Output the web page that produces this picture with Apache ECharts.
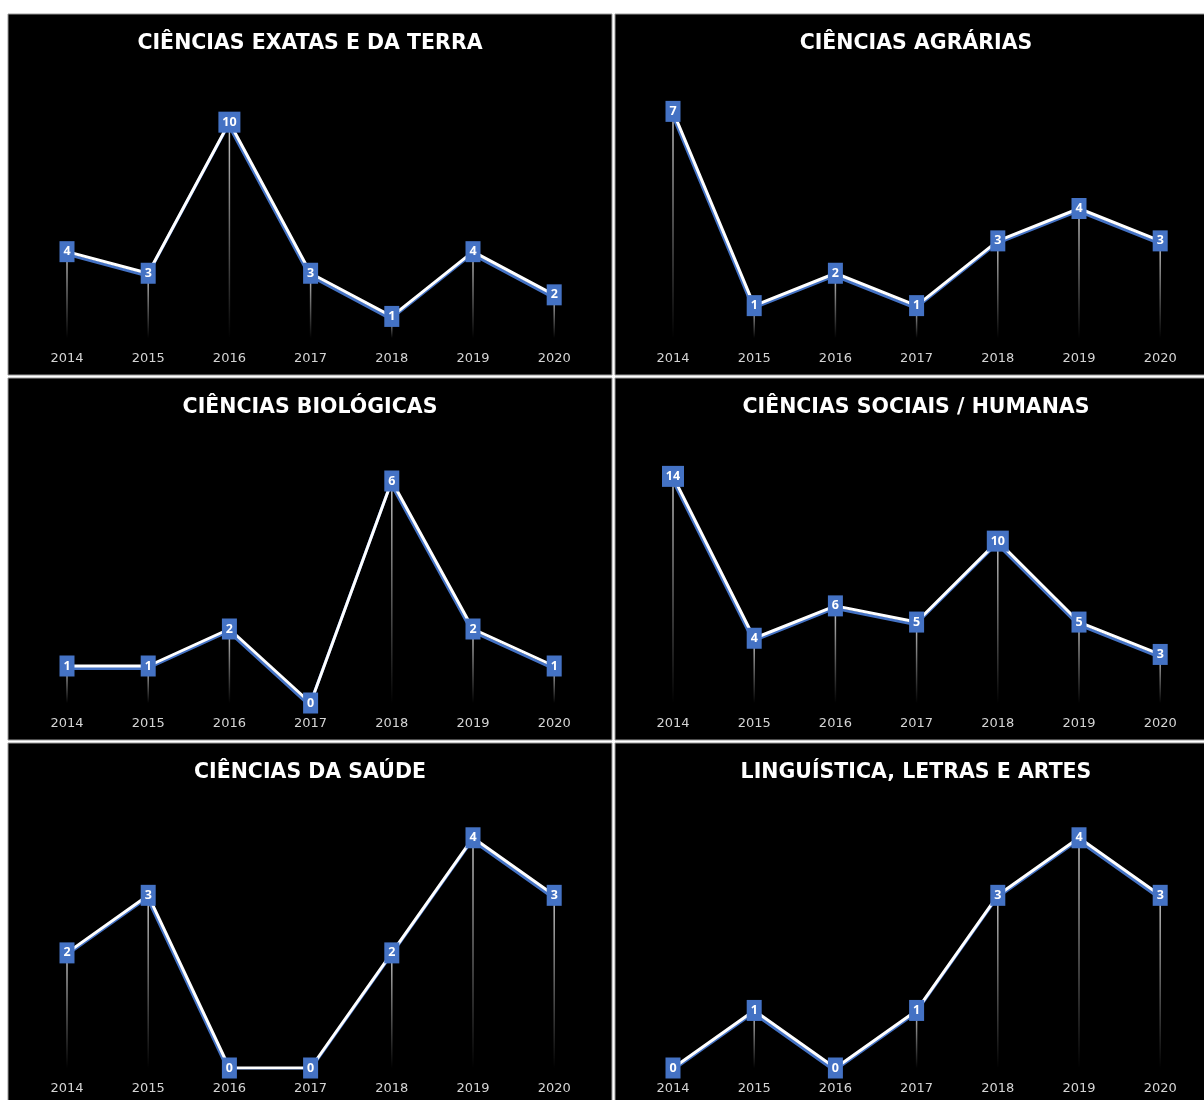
<!DOCTYPE html>
<html>
<head>
<meta charset="utf-8">
<script src="https://cdn.jsdelivr.net/npm/echarts@6/dist/echarts.min.js"></script>
<style>
html,body{margin:0;padding:0;background:#fff;overflow:hidden;}
#chart{width:1204px;height:1100px;}
</style>
</head>
<body>
<div id="chart"></div>
<script>
const years = ['2014','2015','2016','2017','2018','2019','2020'];
const titles = ['CIÊNCIAS EXATAS E DA TERRA','CIÊNCIAS AGRÁRIAS','CIÊNCIAS BIOLÓGICAS','CIÊNCIAS SOCIAIS / HUMANAS','CIÊNCIAS DA SAÚDE','LINGUÍSTICA, LETRAS E ARTES'];
const exatas = [4,3,10,3,1,4,2];
const agrarias = [7,1,2,1,3,4,3];
const biologicas = [1,1,2,0,6,2,1];
const sociais = [14,4,6,5,10,5,3];
const saude = [2,3,0,0,2,4,3];
const linguistica = [0,1,0,1,3,4,3];
const axisMax = [12,8,7,16,4.5,4.5];
const seriesData = [exatas,agrarias,biologicas,sociais,saude,linguistica];

const BLUE = '#4472C4';
const panelX = [8,615];
const panelW = [604,602];
const panelY = [14,378,743];
const panelH = [361,362,360];
const gridLeft = [26.4,632.4];
const gridW = 568.4;
const gridTop = [79,444,809];
const gridH = 259;

const graphic = [], title = [], grid = [], xAxis = [], yAxis = [], series = [];
for (let i = 0; i < 6; i++) {
  const c = i % 2, r = Math.floor(i / 2);
  graphic.push({type:'rect', z:-10, silent:true,
    shape:{x:panelX[c], y:panelY[r], width:panelW[c], height:panelH[r]},
    style:{fill:'#000', stroke:'#9a9a9a', lineWidth:1}});
  title.push({text:titles[i], left:panelX[c] + (c===0?302:301), top:panelY[r] + 19.5, textAlign:'center', padding:0,
    textStyle:{color:'#ffffff', fontSize:20.5, fontWeight:'bold', fontFamily:'DejaVu Sans'}});
  grid.push({left:gridLeft[c], top:gridTop[r], width:gridW, height:gridH});
  xAxis.push({type:'category', gridIndex:i, data:years, boundaryGap:true,
    axisLine:{show:false}, axisTick:{show:false}, splitLine:{show:false},
    axisLabel:{color:'#d4d4d4', fontSize:13, fontFamily:'DejaVu Sans', margin:14}});
  yAxis.push({type:'value', gridIndex:i, min:0, max:axisMax[i], show:false, splitLine:{show:false}});
  series.push({type:'bar', xAxisIndex:i, yAxisIndex:i, data:seriesData[i], barWidth:1.5, silent:true, z:1,
    itemStyle:{color:new echarts.graphic.LinearGradient(0,0,0,1,[{offset:0,color:'rgba(210,210,210,0.95)'},{offset:1,color:'rgba(210,210,210,0)'}])}});
  series.push({type:'line', xAxisIndex:i, yAxisIndex:i, data:seriesData[i], z:3,
    symbol:'rect', symbolSize:(v)=> v>=10 ? [22,21] : [15,21],
    lineStyle:{color:'#ffffff', width:3, shadowColor:BLUE, shadowOffsetY:2.5, shadowOffsetX:-1, shadowBlur:0},
    itemStyle:{color:BLUE},
    label:{show:true, position:'inside', color:'#ffffff', fontSize:12.5, fontWeight:'bold', fontFamily:'Open Sans'},
    emphasis:{disabled:true}, animation:false});
}

const chart = echarts.init(document.getElementById('chart'));
chart.setOption({backgroundColor:'#ffffff', animation:false, graphic, title, grid, xAxis, yAxis, series});
</script>
</body>
</html>
